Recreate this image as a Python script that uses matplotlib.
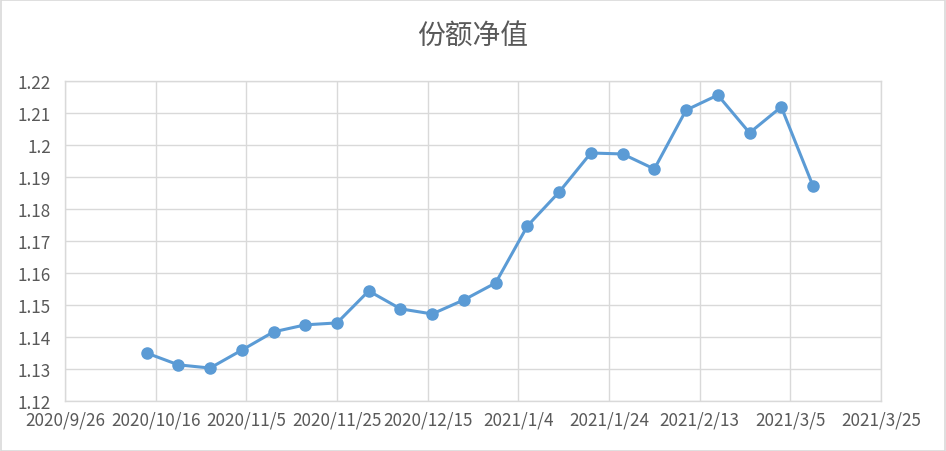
import datetime as dt
import matplotlib
matplotlib.use("Agg")
import matplotlib.pyplot as plt
from matplotlib.patches import Rectangle

plt.rcParams['font.family'] = ['Noto Sans CJK SC', 'DejaVu Sans']

title = "份额净值"
dates = ["2020-10-14", "2020-10-21", "2020-10-28", "2020-11-04", "2020-11-11",
         "2020-11-18", "2020-11-25", "2020-12-02", "2020-12-09", "2020-12-16",
         "2020-12-23", "2020-12-30", "2021-01-06", "2021-01-13", "2021-01-20",
         "2021-01-27", "2021-02-03", "2021-02-10", "2021-02-17", "2021-02-24",
         "2021-03-03", "2021-03-10"]
nav = [1.1350, 1.1313, 1.1303, 1.1359, 1.1416, 1.1438, 1.1444, 1.1544,
       1.1488, 1.1472, 1.1516, 1.1569, 1.1747, 1.1853, 1.1975, 1.1972,
       1.1925, 1.2109, 1.2156, 1.2038, 1.2119, 1.1872]
x_start = "2020-09-26"
x_end = "2021-03-25"
y_ticks = [1.12, 1.13, 1.14, 1.15, 1.16, 1.17, 1.18, 1.19, 1.2, 1.21, 1.22]

x = [dt.datetime.strptime(d, "%Y-%m-%d") for d in dates]
x0 = dt.datetime.strptime(x_start, "%Y-%m-%d")
x1 = dt.datetime.strptime(x_end, "%Y-%m-%d")

W, H = 946, 452
fig = plt.figure(figsize=(W / 100, H / 100), dpi=100)
ax = fig.add_axes([65 / W, 1 - 402 / H, (881 - 65) / W, (402 - 82) / H])

grid_c = "#D9D9D9"
text_c = "#595959"
line_c = "#5B9BD5"

ax.plot(x, nav, color=line_c, lw=2.2, marker="o", ms=8, zorder=3)

ax.set_xlim(x0, x1)
ax.set_ylim(1.12, 1.22)
xt = []
d = x0
while d <= x1:
    xt.append(d)
    d += dt.timedelta(days=20)
ax.set_xticks(xt)
ax.set_xticklabels([f"{t.year}/{t.month}/{t.day}" for t in xt])
ax.set_yticks(y_ticks)
ax.set_yticklabels([f"{v:g}" for v in y_ticks])

ax.grid(True, color=grid_c, lw=1.0)
ax.set_axisbelow(True)
for s in ax.spines.values():
    s.set_color(grid_c)
    s.set_linewidth(1.0)
ax.tick_params(length=0, colors=text_c, labelsize=12.3)
ax.tick_params(axis="x", pad=7)
ax.tick_params(axis="y", pad=10)

fig.text(0.5, 1 - 37 / H, title, ha="center", va="center", fontsize=20,
         color=text_c)

fig.patches.append(Rectangle((0.5 / W, 0.5 / H), 1 - 1.5 / W, 1 - 1.5 / H,
                             transform=fig.transFigure, fill=False,
                             edgecolor=grid_c, lw=1.2))

fig.savefig("out.png", dpi=100)
